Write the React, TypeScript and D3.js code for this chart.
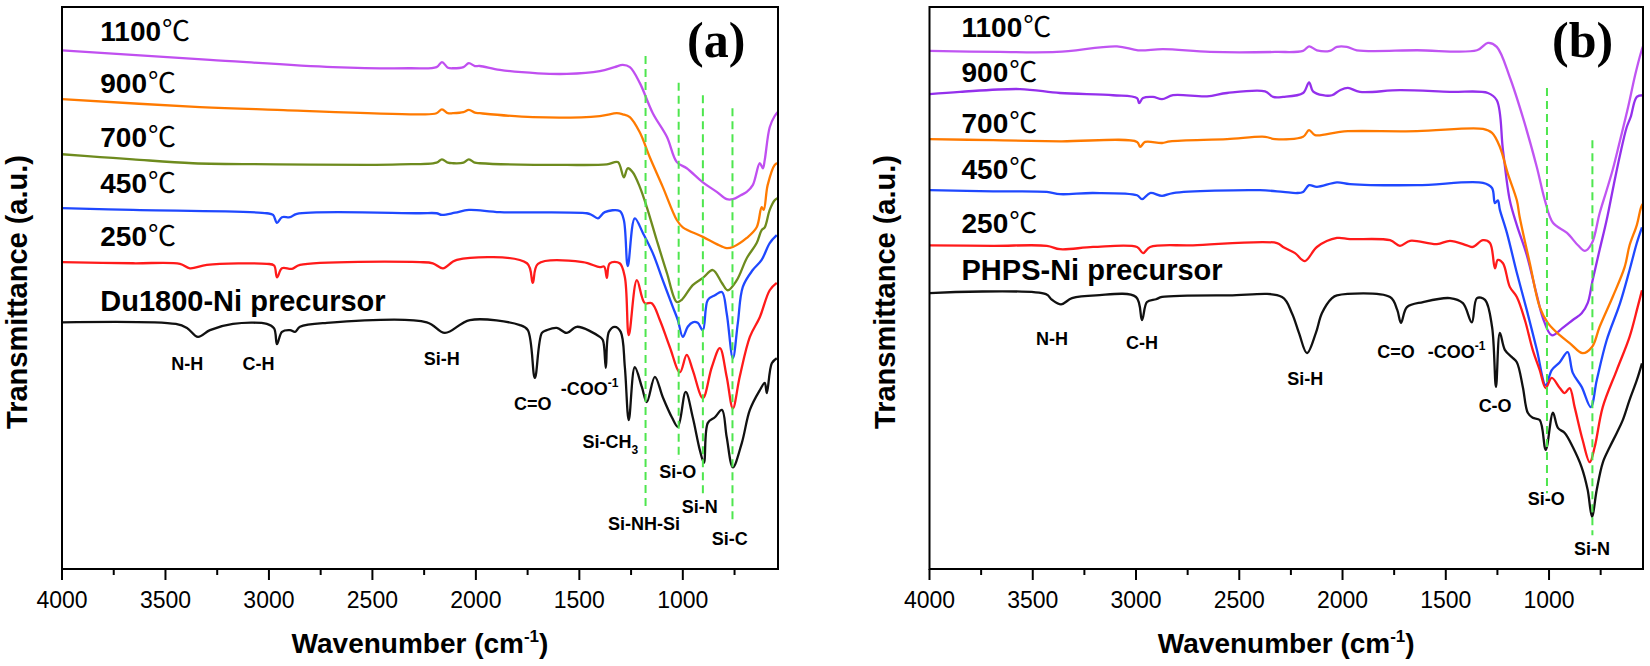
import React from "react";
import * as d3 from "d3";

const W = 1650;
const H = 666;
const TOP = 7;
const BOTTOM = 569;
const SANS = "'Liberation Sans', Arial, sans-serif";

// FTIR spectra, [wavenumber (cm-1), transmittance (a.u., offset)]
const A_1100 = [[4000,92.3],[3285,90.6],[2690,89.3],[2320,89.1],[2190,89.3],[2164,90.2],[2135,89.2],[2110,89.1],[2060,89.3],[2034,90.0],[2005,89.5],[1981,89.5],[1884,88.8],[1700,88.2],[1560,88.1],[1401,88.6],[1330,89.3],[1290,89.7],[1256,89.3],[1208,86.5],[1145,81.1],[1077,76.9],[1029,72.4],[981,71.3],[903,68.8],[836,67.1],[788,65.8],[758,65.8],[720,66.5],[691,67.1],[662,68.3],[628,72.2],[613,71.3],[604,72.8],[580,78.6],[556,80.6],[541,81.3]];
const A_900 = [[4000,83.6],[3333,82.2],[2961,81.7],[2270,80.9],[2190,81.1],[2164,81.8],[2135,81.1],[2111,81.1],[2060,81.3],[2034,81.7],[2005,81.2],[1981,81.1],[1725,80.4],[1401,80.6],[1319,81.1],[1290,80.9],[1256,80.4],[1208,77.7],[1160,73.3],[1097,68.0],[1029,62.1],[1000,60.8],[903,59.1],[836,57.8],[788,57.1],[758,57.3],[691,58.9],[643,60.8],[619,64.4],[609,63.9],[590,68.3],[556,71.9],[541,72.2]];
const A_700 = [[4000,73.8],[3816,73.3],[3657,72.9],[3367,72.2],[2961,72.0],[2527,71.9],[2367,72.0],[2190,72.3],[2164,72.9],[2135,72.3],[2111,72.2],[2060,72.3],[2034,72.9],[2005,72.3],[1981,72.2],[1560,71.9],[1367,72.0],[1314,72.4],[1285,69.7],[1266,71.3],[1242,70.6],[1208,68.0],[1174,64.4],[1126,58.5],[1077,52.7],[1029,47.5],[1005,47.9],[952,50.5],[903,51.8],[855,53.2],[811,50.9],[783,49.6],[739,51.4],[691,55.3],[643,58.0],[619,60.3],[604,60.8],[580,63.9],[556,65.6],[541,66.0]];
const A_450 = [[4000,64.2],[3657,63.9],[3010,63.3],[2980,63.0],[2961,61.6],[2937,62.6],[2898,62.6],[2865,63.2],[2270,63.3],[2190,63.3],[2164,63.0],[2100,63.4],[2034,63.9],[1884,63.5],[1464,63.3],[1440,63.0],[1410,62.4],[1377,63.5],[1305,63.7],[1285,62.1],[1266,53.9],[1232,62.4],[1193,59.8],[1145,56.2],[1097,51.4],[1048,46.6],[1024,44.3],[1000,41.3],[976,43.1],[952,43.9],[928,43.8],[903,42.5],[879,47.9],[845,48.7],[811,49.3],[788,45.5],[758,37.5],[734,43.8],[710,50.2],[662,53.2],[619,55.0],[580,58.0],[546,59.4]];
const A_250 = [[4000,54.6],[3657,54.4],[3430,54.3],[3382,53.5],[3300,54.1],[3010,54.3],[2975,54.0],[2961,51.9],[2937,53.5],[2889,53.4],[2850,54.1],[2270,54.6],[2208,54.4],[2159,53.5],[2092,55.0],[1753,54.4],[1725,50.9],[1700,54.3],[1483,54.6],[1401,53.7],[1380,53.8],[1367,51.8],[1353,54.4],[1305,54.4],[1280,51.9],[1261,41.6],[1222,51.4],[1184,47.3],[1150,47.3],[1111,44.3],[1063,39.5],[1014,35.0],[981,38.1],[952,35.4],[903,30.4],[860,35.9],[821,39.3],[788,34.2],[758,28.6],[725,34.2],[676,41.3],[628,44.8],[580,49.6],[546,50.9]];
const A_PRE = [[4000,43.9],[3450,43.6],[3396,42.9],[3343,41.3],[3285,42.5],[3174,43.6],[3010,43.6],[2975,42.8],[2961,40.0],[2937,42.2],[2898,42.5],[2874,42.2],[2850,43.1],[2720,43.8],[2237,43.9],[2150,42.0],[2029,44.3],[1787,43.4],[1749,42.5],[1715,34.0],[1681,42.0],[1657,42.5],[1609,42.9],[1560,42.0],[1512,43.1],[1401,41.3],[1386,40.7],[1372,35.8],[1357,42.2],[1329,43.1],[1300,42.2],[1280,35.9],[1261,26.5],[1232,35.9],[1198,32.4],[1174,29.7],[1135,34.2],[1097,30.6],[1053,27.0],[1024,25.3],[986,31.5],[952,27.0],[918,21.2],[898,18.9],[879,26.0],[845,27.0],[811,28.3],[788,23.5],[758,18.1],[715,22.4],[676,28.3],[628,31.8],[604,33.1],[594,31.3],[570,36.6],[546,37.5]];

const B_1100 = [[4000,92.2],[3659,92.0],[3383,92.0],[3092,93.0],[2990,92.3],[2869,92.5],[2641,92.0],[2327,92.0],[2191,92.2],[2162,93.0],[2124,92.3],[2061,92.2],[2027,92.9],[1979,92.9],[1931,92.3],[1639,92.3],[1349,92.3],[1296,93.6],[1253,92.9],[1190,87.5],[1127,80.4],[1059,71.5],[1020,65.6],[981,61.6],[913,59.8],[860,57.6],[826,56.6],[792,58.0],[755,63.3],[721,67.4],[692,71.0],[656,76.3],[617,82.2],[583,87.9],[554,92.0],[545,93.0]];
const B_900 = [[4000,84.5],[3852,84.9],[3562,85.4],[3368,84.7],[3111,84.3],[2995,83.8],[2985,82.9],[2966,83.8],[2918,84.0],[2874,83.6],[2821,84.3],[2656,84.1],[2559,84.7],[2375,85.0],[2336,84.0],[2288,84.0],[2191,84.7],[2162,86.6],[2143,85.0],[2095,84.3],[2051,84.3],[2012,85.2],[1974,85.6],[1916,84.9],[1722,85.2],[1480,84.9],[1296,84.7],[1253,83.4],[1223,74.5],[1190,65.6],[1156,61.2],[1108,55.9],[1059,48.7],[1030,44.7],[987,41.6],[934,42.9],[885,44.3],[842,45.5],[813,47.3],[789,51.4],[755,56.8],[721,62.1],[687,68.3],[656,73.7],[624,78.6],[605,80.4],[575,84.0],[545,84.3]];
const B_700 = [[4000,76.5],[3692,76.3],[3368,76.1],[2995,76.0],[2980,75.1],[2956,76.0],[2874,75.8],[2835,76.1],[2559,76.5],[2375,76.9],[2327,76.5],[2191,76.9],[2162,78.1],[2133,77.2],[2027,77.7],[1974,77.9],[1639,77.9],[1320,78.3],[1276,77.6],[1238,75.1],[1200,70.4],[1156,65.6],[1142,62.6],[1093,54.4],[1045,46.6],[1006,43.8],[948,41.6],[900,40.2],[837,38.4],[792,39.5],[755,43.1],[692,48.4],[634,53.7],[610,57.6],[575,61.2],[554,64.4],[545,65.0]];
const B_450 = [[4000,67.4],[3692,67.2],[3432,67.1],[3368,66.7],[3208,66.9],[2995,66.5],[2971,65.8],[2932,66.9],[2874,66.4],[2821,66.9],[2400,67.4],[2288,67.1],[2221,66.9],[2191,67.1],[2162,68.3],[2124,68.0],[2027,68.8],[1964,68.5],[1639,68.3],[1320,68.7],[1276,67.8],[1262,65.1],[1248,65.6],[1238,63.9],[1204,59.8],[1156,52.7],[1108,46.1],[1059,39.0],[1016,32.7],[987,35.4],[948,36.8],[910,38.6],[885,34.9],[842,32.4],[798,28.8],[769,33.6],[721,40.7],[656,47.3],[610,53.2],[575,58.0],[550,60.8]];
const B_250 = [[4000,57.6],[3692,57.5],[3432,57.5],[3368,56.9],[3208,57.3],[2995,57.3],[2966,56.2],[2932,57.3],[2724,57.6],[2317,58.0],[2288,57.3],[2230,56.2],[2182,54.8],[2124,57.3],[2027,58.9],[1964,58.7],[1770,58.5],[1722,57.5],[1673,58.4],[1543,57.8],[1480,58.4],[1398,57.6],[1369,57.3],[1320,58.5],[1286,58.0],[1262,53.5],[1248,55.0],[1223,54.4],[1190,50.2],[1156,48.4],[1117,44.3],[1079,39.0],[1045,35.4],[1016,32.2],[987,34.0],[948,32.2],[924,31.3],[900,32.2],[876,28.8],[837,22.9],[803,19.0],[779,21.7],[740,28.8],[672,35.4],[610,41.3],[571,46.6],[550,49.6]];
const B_PRE = [[4000,49.1],[3436,48.9],[3407,47.9],[3363,47.1],[3310,48.2],[3194,48.7],[3000,48.4],[2971,44.3],[2947,47.5],[2903,48.0],[2874,48.4],[2550,48.7],[2293,48.4],[2245,45.5],[2211,42.0],[2172,38.4],[2129,42.0],[2100,45.5],[2051,48.2],[2027,48.7],[1770,48.4],[1735,46.1],[1717,43.8],[1688,46.6],[1610,47.5],[1480,48.2],[1417,47.3],[1374,43.9],[1349,48.2],[1310,47.9],[1276,43.1],[1257,32.4],[1238,42.0],[1214,39.0],[1180,37.7],[1156,36.8],[1127,32.4],[1103,27.8],[1079,26.9],[1045,26.5],[1016,21.2],[981,27.8],[957,25.1],[924,24.2],[885,21.7],[842,18.1],[813,14.1],[792,9.3],[769,14.1],[740,18.9],[706,21.7],[672,24.2],[643,26.5],[610,30.1],[575,33.6],[550,36.6]];

const TEMPS = ["1100", "900", "700", "450", "250"];
const A_PRECURSOR = "Du1800-Ni precursor";
const B_PRECURSOR = "PHPS-Ni precursor";

// label anchors in data units [wavenumber, a.u.]
const A_LABEL_AT = [[3815, 93.9], [3815, 84.7], [3815, 75.1], [3815, 66.9], [3815, 57.5], [3815, 45.9]];
const B_LABEL_AT = [[3845, 94.6], [3845, 86.6], [3845, 77.6], [3845, 69.4], [3845, 59.8], [3845, 51.4]];

const A_PEAKS = [
  { t: "N-H", wn: 3395, v: 35.4 },
  { t: "C-H", wn: 3050, v: 35.4 },
  { t: "Si-H", wn: 2165, v: 36.3 },
  { t: "C=O", wn: 1725, v: 28.3 },
  { t: "-COO^-1", wn: 1450, v: 31.0 },
  { t: "Si-CH_3", wn: 1350, v: 21.5 },
  { t: "Si-O", wn: 1024, v: 16.2 },
  { t: "Si-N", wn: 918, v: 10.0 },
  { t: "Si-NH-Si", wn: 1188, v: 6.9 },
  { t: "Si-C", wn: 773, v: 4.3 },
];
const B_PEAKS = [
  { t: "N-H", wn: 3407, v: 39.8 },
  { t: "C-H", wn: 2971, v: 39.1 },
  { t: "Si-H", wn: 2181, v: 32.7 },
  { t: "C=O", wn: 1741, v: 37.5 },
  { t: "-COO^-1", wn: 1448, v: 37.5 },
  { t: "C-O", wn: 1261, v: 27.9 },
  { t: "Si-O", wn: 1014, v: 11.4 },
  { t: "Si-N", wn: 792, v: 2.5 },
];

// dashed guides: [wavenumber, from a.u., to a.u.]
const A_GUIDES = [[1180, 91.3, 11.0], [1020, 86.5, 19.4], [903, 84.3, 12.8], [760, 82.0, 8.7]];
const B_GUIDES = [[1010, 85.6, 13.5], [790, 76.3, 6.0]];

const A_COLORS = ["#c04ff0", "#ff7a00", "#6e8b1e", "#1f48ff", "#ff1a1a", "#111111"];
const B_COLORS = ["#c055f2", "#9430ec", "#ff7a00", "#1f48ff", "#ff1a1a", "#111111"];

function Rich({ s, x, y, size }) {
  if (s.includes("^")) {
    const [a, b] = s.split("^");
    return (
      <text x={x} y={y} textAnchor="middle" fontFamily={SANS} fontWeight="bold" fontSize={size}>
        {a}<tspan dy={-8} fontSize={12}>{b}</tspan>
      </text>
    );
  }
  if (s.includes("_")) {
    const [a, b] = s.split("_");
    return (
      <text x={x} y={y} textAnchor="middle" fontFamily={SANS} fontWeight="bold" fontSize={size}>
        {a}<tspan dy={6} fontSize={12}>{b}</tspan>
      </text>
    );
  }
  return (
    <text x={x} y={y} textAnchor="middle" fontFamily={SANS} fontWeight="bold" fontSize={size}>{s}</text>
  );
}

function Panel({ left, right, xMin, series, colors, labelAt, precursor, peaks, guides, tag }) {
  const x = d3.scaleLinear().domain([4000, xMin]).range([left, right]);
  const y = d3.scaleLinear().domain([0, 100]).range([BOTTOM, TOP]);
  const line = d3.line().x(d => x(d[0])).y(d => y(d[1])).curve(d3.curveCatmullRom.alpha(0.5));
  const ticks = d3.range(4000, xMin, -250);

  return (
    <g>
      {series.map((s, i) => (
        <path key={i} d={line(s)} fill="none" stroke={colors[i]} strokeWidth={2.3} strokeLinejoin="round" />
      ))}
      {guides.map((g, i) => (
        <line key={i} x1={x(g[0])} x2={x(g[0])} y1={y(g[1])} y2={y(g[2])}
          stroke="#4ee64e" strokeWidth={2} strokeDasharray="8,5" />
      ))}
      {TEMPS.map((t, i) => (
        <text key={t} x={x(labelAt[i][0])} y={y(labelAt[i][1])} fontFamily={SANS} fontWeight="bold" fontSize={28}>
          {t}<tspan dx={1} fontFamily="'Noto Sans CJK SC', 'DejaVu Sans', sans-serif" fontWeight="normal">℃</tspan>
        </text>
      ))}
      <text x={x(labelAt[5][0])} y={y(labelAt[5][1])} fontFamily={SANS} fontWeight="bold" fontSize={29}>
        {precursor}
      </text>
      {peaks.map((p, i) => (
        <Rich key={i} s={p.t} x={x(p.wn)} y={y(p.v)} size={18} />
      ))}
      <rect x={left} y={TOP} width={right - left} height={BOTTOM - TOP} fill="none" stroke="#000" strokeWidth={2} />
      {ticks.map(t => {
        const major = t % 500 === 0;
        return (
          <g key={t}>
            <line x1={x(t)} x2={x(t)} y1={BOTTOM} y2={BOTTOM + (major ? 11 : 6)} stroke="#000" strokeWidth={2} />
            {major && (
              <text x={x(t)} y={BOTTOM + 39} textAnchor="middle" fontFamily={SANS} fontSize={23}>{t}</text>
            )}
          </g>
        );
      })}
      <text x={(left + right) / 2} y={BOTTOM + 84} textAnchor="middle" fontFamily={SANS} fontWeight="bold" fontSize={28}>
        Wavenumber (cm<tspan dy={-11} fontSize={17}>-1</tspan><tspan dy={11}>)</tspan>
      </text>
      <text transform={`translate(${left - 35},292) rotate(-90)`} textAnchor="middle" fontFamily={SANS} fontWeight="bold" fontSize={29}>
        Transmittance (a.u.)
      </text>
      <text x={right - 91} y={TOP + 50} fontFamily="'Liberation Serif', 'Times New Roman', serif" fontWeight="bold" fontSize={50}>
        {tag}
      </text>
    </g>
  );
}

export default function App() {
  return (
    <div style={{ position: "absolute", left: 0, top: 0 }}>
      <svg width={W} height={H} style={{ display: "block", background: "#fff" }}>
        <Panel left={62} right={778} xMin={540}
          series={[A_1100, A_900, A_700, A_450, A_250, A_PRE]} colors={A_COLORS}
          labelAt={A_LABEL_AT} precursor={A_PRECURSOR} peaks={A_PEAKS} guides={A_GUIDES} tag="(a)" />
        <Panel left={929.5} right={1643} xMin={545}
          series={[B_1100, B_900, B_700, B_450, B_250, B_PRE]} colors={B_COLORS}
          labelAt={B_LABEL_AT} precursor={B_PRECURSOR} peaks={B_PEAKS} guides={B_GUIDES} tag="(b)" />
      </svg>
    </div>
  );
}
